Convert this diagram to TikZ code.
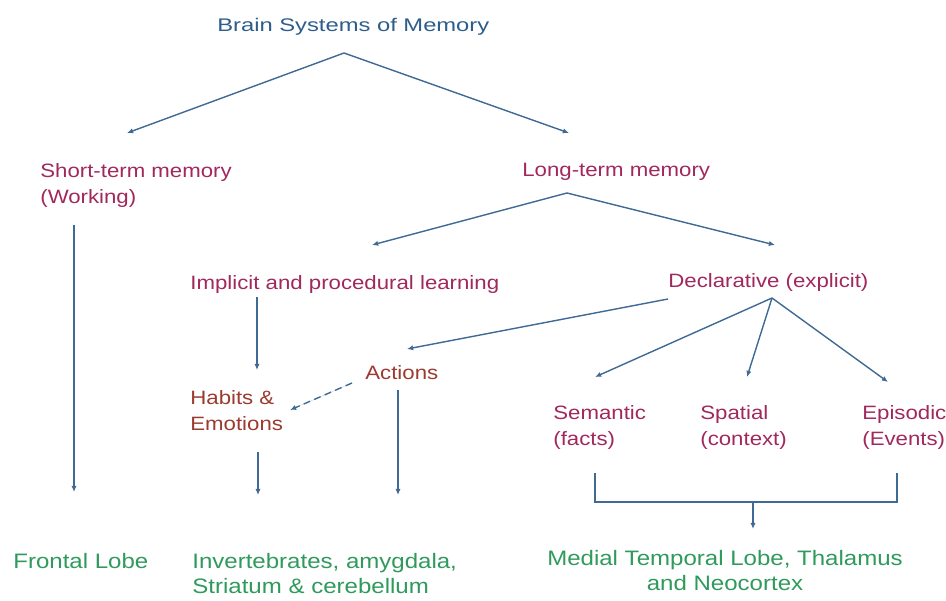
\documentclass[tikz,border=0pt]{standalone}
\usepackage{fontspec}
\setmainfont{Liberation Sans}[FakeStretch=1.15]
\newfontfamily\titlefont{Liberation Sans}[FakeStretch=1.3]
\usepackage{xcolor}
\usetikzlibrary{arrows.meta}

\definecolor{titleblue}{HTML}{2D5D8B}
\definecolor{memmagenta}{HTML}{A0285C}
\definecolor{membrown}{HTML}{9B3A2E}
\definecolor{regiongreen}{HTML}{2F9A5C}
\definecolor{linkblue}{HTML}{3F6A94}

\begin{document}
\begin{tikzpicture}[
    x=0.02cm, y=-0.02cm,
    every node/.style={inner sep=0pt, anchor=north west},
    memtype/.style={align=left, text=memmagenta, font=\fontsize{11}{14.7}\selectfont},
    memsub/.style={align=left, text=membrown, font=\fontsize{11}{14.7}\selectfont},
    region/.style={align=left, text=regiongreen, font=\fontsize{11.9}{14.2}\selectfont},
    link/.style={-{Latex[length=3.5pt, width=3pt]}, draw=linkblue, fill=linkblue, line width=0.8pt},
    dashlink/.style={link, dash pattern=on 4pt off 2.5pt}
]
    \useasboundingbox (0,0) rectangle (946,601);

    % levels of the tree
    \node[text=titleblue, font=\titlefont\fontsize{10.4}{12}\selectfont] (title) at (217,18) {Brain Systems of Memory};
    \node[memtype] (stm) at (40,163) {Short-term memory\\(Working)};
    \node[memtype] (ltm) at (522,163) {Long-term memory};
    \node[memtype] (implicit) at (190,275) {Implicit and procedural learning};
    \node[memtype] (decl) at (668,273) {Declarative (explicit)};
    \node[memsub] (actions) at (365,365) {Actions};
    \node[memsub] (habits) at (190,390) {Habits \&\\Emotions};
    \node[memtype] (semantic) at (553,405) {Semantic\\(facts)};
    \node[memtype] (spatial) at (700,405) {Spatial\\(context)};
    \node[memtype] (episodic) at (862,405) {Episodic\\(Events)};

    % brain regions
    \node[region] (frontal) at (13,553) {Frontal Lobe};
    \node[region] (invert) at (192,553) {Invertebrates, amygdala,\\Striatum \& cerebellum};
    \node[region, align=center, anchor=north] (medial) at (725,550) {Medial Temporal Lobe, Thalamus\\and Neocortex};

    \draw[link] ([shift={(127,35)}]title.north west) -- ([shift={(87,-30)}]stm.north west);
    \draw[link] ([shift={(127,35)}]title.north west) -- ([shift={(47,-30)}]ltm.north west);
    \draw[link] ([shift={(45,30)}]ltm.north west) -- ([shift={(182,-30)}]implicit.north west);
    \draw[link] ([shift={(45,30)}]ltm.north west) -- ([shift={(107,-28)}]decl.north west);
    \draw[link] ([shift={(34,62)}]stm.north west) -- ([shift={(61,-61)}]frontal.north west);
    \draw[link] ([shift={(67,22)}]implicit.north west) -- ([shift={(67,-20)}]habits.north west);
    \draw[link] ([shift={(0,26)}]decl.north west) -- ([shift={(42,-16)}]actions.north west);
    \draw[link] ([shift={(104,25)}]decl.north west) -- ([shift={(42,-28)}]semantic.north west);
    \draw[link] ([shift={(104,25)}]decl.north west) -- ([shift={(47,-28)}]spatial.north west);
    \draw[link] ([shift={(104,25)}]decl.north west) -- ([shift={(26,-23)}]episodic.north west);
    \draw[dashlink] ([shift={(-13,18)}]actions.north west) -- ([shift={(100,20)}]habits.north west);
    \draw[link] ([shift={(68,62)}]habits.north west) -- ([shift={(66,-58)}]invert.north west);
    \draw[link] ([shift={(33,25)}]actions.north west) -- ([shift={(206,-58)}]invert.north west);

    % bracket joining the declarative kinds
    \draw[draw=linkblue, line width=0.8pt] ([shift={(42,68)}]semantic.north west) -- ++(0,29) -| ([shift={(35,68)}]episodic.north west);
    \draw[link] ([shift={(28,-48)}]medial.north) -- ([shift={(28,-21)}]medial.north);
\end{tikzpicture}
\end{document}
